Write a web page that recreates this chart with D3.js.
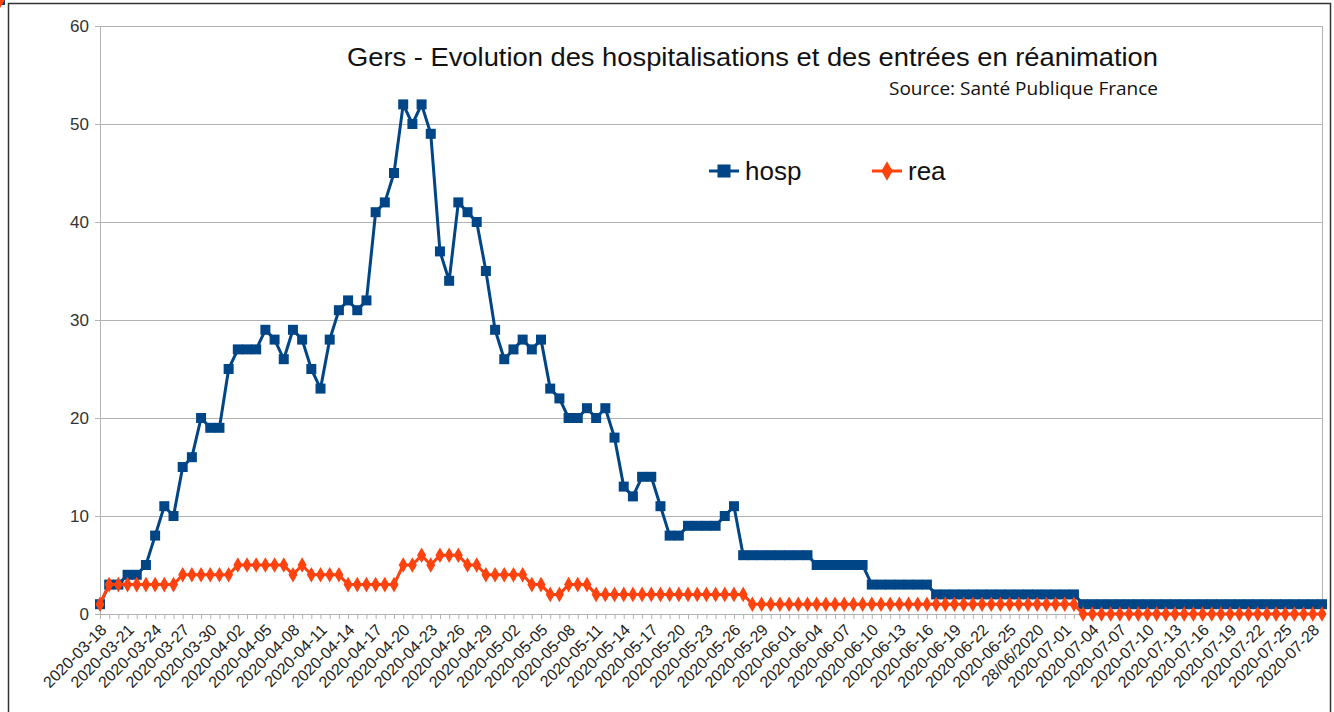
<!DOCTYPE html>
<html>
<head>
<meta charset="utf-8">
<script src="https://cdn.jsdelivr.net/npm/d3@7"></script>
<style>
  html, body { margin: 0; padding: 0; background: #fff; }
  svg { display: block; }
</style>
</head>
<body>
<div class="Chart"></div>
<script>
// categories as they appear in the sheet (one label in another format)
var dates = [
  "2020-03-18","2020-03-19","2020-03-20","2020-03-21","2020-03-22","2020-03-23","2020-03-24","2020-03-25","2020-03-26","2020-03-27",
  "2020-03-28","2020-03-29","2020-03-30","2020-03-31",
  "2020-04-01","2020-04-02","2020-04-03","2020-04-04","2020-04-05","2020-04-06","2020-04-07","2020-04-08","2020-04-09","2020-04-10",
  "2020-04-11","2020-04-12","2020-04-13","2020-04-14","2020-04-15","2020-04-16","2020-04-17","2020-04-18","2020-04-19","2020-04-20",
  "2020-04-21","2020-04-22","2020-04-23","2020-04-24","2020-04-25","2020-04-26","2020-04-27","2020-04-28","2020-04-29","2020-04-30",
  "2020-05-01","2020-05-02","2020-05-03","2020-05-04","2020-05-05","2020-05-06","2020-05-07","2020-05-08","2020-05-09","2020-05-10",
  "2020-05-11","2020-05-12","2020-05-13","2020-05-14","2020-05-15","2020-05-16","2020-05-17","2020-05-18","2020-05-19","2020-05-20",
  "2020-05-21","2020-05-22","2020-05-23","2020-05-24","2020-05-25","2020-05-26","2020-05-27","2020-05-28","2020-05-29","2020-05-30",
  "2020-05-31",
  "2020-06-01","2020-06-02","2020-06-03","2020-06-04","2020-06-05","2020-06-06","2020-06-07","2020-06-08","2020-06-09","2020-06-10",
  "2020-06-11","2020-06-12","2020-06-13","2020-06-14","2020-06-15","2020-06-16","2020-06-17","2020-06-18","2020-06-19","2020-06-20",
  "2020-06-21","2020-06-22","2020-06-23","2020-06-24","2020-06-25","2020-06-26","2020-06-27","28/06/2020","2020-06-29","2020-06-30",
  "2020-07-01","2020-07-02","2020-07-03","2020-07-04","2020-07-05","2020-07-06","2020-07-07","2020-07-08","2020-07-09","2020-07-10",
  "2020-07-11","2020-07-12","2020-07-13","2020-07-14","2020-07-15","2020-07-16","2020-07-17","2020-07-18","2020-07-19","2020-07-20",
  "2020-07-21","2020-07-22","2020-07-23","2020-07-24","2020-07-25","2020-07-26","2020-07-27","2020-07-28","2020-07-29"
];

var hosp = [
  1,3,3,4,4,5,8,11,10,15,16,20,19,19,
  25,27,27,27,29,28,26,29,28,25,23,28,31,32,31,32,41,42,45,52,50,52,49,37,34,42,41,40,35,29,
  26,27,28,27,28,23,22,20,20,21,20,21,18,13,12,14,14,11,8,8,9,9,9,9,10,11,6,6,6,6,6,
  6,6,6,5,5,5,5,5,5,3,3,3,3,3,3,3,2,2,2,2,2,2,2,2,2,2,2,2,2,2,2,2,
  1,1,1,1,1,1,1,1,1,1,1,1,1,1,1,1,1,1,1,1,1,1,1,1,1,1,1,1,1
];

var rea = [
  1,3,3,3,3,3,3,3,3,4,4,4,4,4,
  4,5,5,5,5,5,5,4,5,4,4,4,4,3,3,3,3,3,3,5,5,6,5,6,6,6,5,5,4,4,
  4,4,4,3,3,2,2,3,3,3,2,2,2,2,2,2,2,2,2,2,2,2,2,2,2,2,2,1,1,1,1,
  1,1,1,1,1,1,1,1,1,1,1,1,1,1,1,1,1,1,1,1,1,1,1,1,1,1,1,1,1,1,1,1,
  0,0,0,0,0,0,0,0,0,0,0,0,0,0,0,0,0,0,0,0,0,0,0,0,0,0,0,0,0
];

var yTicks = [0, 10, 20, 30, 40, 50, 60];
var seriesNames = ["hosp", "rea"];
var seriesColors = ["#004586", "#ff420e"];

var width = 1334, height = 712;
var margin = { left: 100, right: 12, top: 26, bottom: 98 };

var svg = d3.select('.Chart').append('svg')
  .attr('width', width)
  .attr('height', height)
  .attr('viewBox', '0 0 ' + width + ' ' + height);

// outer frame of the screenshot
svg.append('rect')
  .attr('x', 8.5).attr('y', 3.5)
  .attr('width', 1322).attr('height', 730)
  .style('fill', 'none')
  .style('stroke', '#333')
  .style('stroke-width', 1.5);

var x = d3.scalePoint()
  .domain(d3.range(dates.length))
  .range([margin.left, width - margin.right]);

var y = d3.scaleLinear()
  .domain([0, 60])
  .range([height - margin.bottom, margin.top]);

// horizontal grid
svg.append('g')
  .attr('transform', 'translate(' + margin.left + ',0)')
  .call(d3.axisLeft(y).tickValues(yTicks).tickSize(-(width - margin.right - margin.left)).tickFormat(''))
  .call(function(g) {
    g.select('.domain').remove();
    g.selectAll('line').style('stroke', '#b3b3b3').style('stroke-width', 1);
  });

// right border of plot area
svg.append('line')
  .attr('x1', width - margin.right + 0.5).attr('x2', width - margin.right + 0.5)
  .attr('y1', y(60)).attr('y2', y(0))
  .style('stroke', '#b3b3b3');

// y axis
svg.append('g')
  .attr('transform', 'translate(' + margin.left + ',0)')
  .call(d3.axisLeft(y).tickValues(yTicks).tickSize(5).tickPadding(6))
  .call(function(g) {
    g.select('.domain').style('stroke', '#b3b3b3');
    g.selectAll('line').style('stroke', '#b3b3b3');
    g.selectAll('text')
      .style('font-family', '"Liberation Sans", Arial, sans-serif')
      .style('font-size', '17px')
      .style('fill', '#333');
  });

// x axis
svg.append('g')
  .attr('transform', 'translate(0,' + y(0) + ')')
  .call(d3.axisBottom(x).tickSize(5).tickFormat(function(i) { return i % 3 === 0 ? dates[i] : ''; }))
  .call(function(g) {
    g.select('.domain').style('stroke', '#b3b3b3');
    g.selectAll('line').style('stroke', '#b3b3b3');
    g.selectAll('text')
      .style('font-family', '"Liberation Sans", Arial, sans-serif')
      .style('font-size', '16px')
      .style('fill', '#222')
      .attr('text-anchor', 'end')
      .attr('y', 0)
      .attr('dy', 0)
      .attr('transform', 'translate(7,17) rotate(-45)');
  });

// series
var series = [hosp, rea];
series.forEach(function(values, s) {
  var line = d3.line()
    .x(function(d, i) { return x(i); })
    .y(function(d) { return y(d); });

  svg.append('path')
    .datum(values)
    .attr('d', line)
    .style('fill', 'none')
    .style('stroke', seriesColors[s])
    .style('stroke-width', 3)
    .style('stroke-linejoin', 'round');

  var sym = s === 0 ? d3.symbolSquare : d3.symbolDiamond;
  var size = s === 0 ? 100 : 70;
  svg.append('g').selectAll('path')
    .data(values)
    .enter().append('path')
    .attr('transform', function(d, i) { return 'translate(' + x(i) + ',' + y(d) + ')'; })
    .attr('d', d3.symbol().type(sym).size(size))
    .style('fill', seriesColors[s]);
});

// title
svg.append('text')
  .attr('x', 347).attr('y', 66)
  .attr('textLength', 811)
  .attr('lengthAdjust', 'spacingAndGlyphs')
  .style('font-family', '"Liberation Sans", Arial, sans-serif')
  .style('font-size', '26px')
  .style('fill', '#111')
  .text('Gers - Evolution des hospitalisations et des entrées en réanimation');

svg.append('text')
  .attr('x', 889).attr('y', 95)
  .attr('textLength', 269)
  .attr('lengthAdjust', 'spacingAndGlyphs')
  .style('font-family', '"Open Sans", sans-serif')
  .style('font-size', '18px')
  .style('fill', '#111')
  .text('Source: Santé Publique France');

// legend
var legendX = [709, 872];
seriesNames.forEach(function(name, s) {
  var g = svg.append('g').attr('transform', 'translate(' + legendX[s] + ',171)');
  g.append('line')
    .attr('x1', 0).attr('x2', 30)
    .style('stroke', seriesColors[s])
    .style('stroke-width', 3);
  g.append('path')
    .attr('transform', 'translate(15,0)')
    .attr('d', d3.symbol().type(s === 0 ? d3.symbolSquare : d3.symbolDiamond).size(s === 0 ? 170 : 110))
    .style('fill', seriesColors[s]);
  g.append('text')
    .attr('x', 36).attr('y', 9)
    .style('font-family', '"Liberation Sans", Arial, sans-serif')
    .style('font-size', '26px')
    .style('fill', '#111')
    .text(name);
});
</script>
</body>
</html>
